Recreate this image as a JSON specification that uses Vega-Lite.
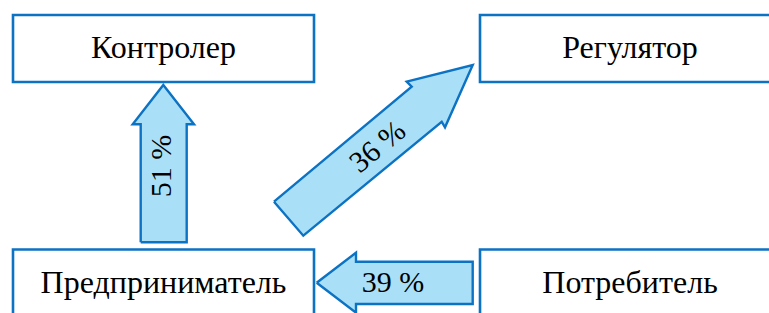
{
  "$schema": "https://vega.github.io/schema/vega-lite/v6.json",
  "width": 769,
  "height": 313,
  "autosize": {"type": "none"},
  "padding": 0,
  "background": "white",
  "config": {"view": {"stroke": null}},
  "datasets": {
    "boxes": [
      {"name": "Контролер", "x1": 13, "x2": 314, "y1": 15, "y2": 82},
      {"name": "Регулятор", "x1": 480, "x2": 790, "y1": 15, "y2": 82},
      {"name": "Предприниматель", "x1": 13, "x2": 314, "y1": 249.5, "y2": 330},
      {"name": "Потребитель", "x1": 480, "x2": 790, "y1": 249.5, "y2": 330}
    ],
    "arrows": [
      {"arrow": "A", "i": 0, "x": 140.7, "y": 242.3},
      {"arrow": "A", "i": 1, "x": 140.7, "y": 124.3},
      {"arrow": "A", "i": 2, "x": 132.7, "y": 124.3},
      {"arrow": "A", "i": 3, "x": 163.3, "y": 85},
      {"arrow": "A", "i": 4, "x": 194, "y": 124.3},
      {"arrow": "A", "i": 5, "x": 186.7, "y": 124.3},
      {"arrow": "A", "i": 6, "x": 186.7, "y": 242.3},
      {"arrow": "A", "i": 7, "x": 140.7, "y": 242.3},
      {"arrow": "B", "i": 0, "x": 274, "y": 201.7},
      {"arrow": "B", "i": 1, "x": 411.7, "y": 86.7},
      {"arrow": "B", "i": 2, "x": 406.7, "y": 81.7},
      {"arrow": "B", "i": 3, "x": 472.7, "y": 65},
      {"arrow": "B", "i": 4, "x": 445, "y": 127.3},
      {"arrow": "B", "i": 5, "x": 441.7, "y": 121.7},
      {"arrow": "B", "i": 6, "x": 303.3, "y": 235.7},
      {"arrow": "B", "i": 7, "x": 274, "y": 201.7},
      {"arrow": "C", "i": 0, "x": 316.7, "y": 282.7},
      {"arrow": "C", "i": 1, "x": 356, "y": 252.7},
      {"arrow": "C", "i": 2, "x": 356, "y": 261.7},
      {"arrow": "C", "i": 3, "x": 472.7, "y": 261.7},
      {"arrow": "C", "i": 4, "x": 472.7, "y": 304},
      {"arrow": "C", "i": 5, "x": 356, "y": 304},
      {"arrow": "C", "i": 6, "x": 356, "y": 312.7},
      {"arrow": "C", "i": 7, "x": 316.7, "y": 282.7}
    ],
    "labels": [
      {"text": "Контролер", "x": 163.5, "y": 48},
      {"text": "Регулятор", "x": 630, "y": 48},
      {"text": "Предприниматель", "x": 163.5, "y": 283},
      {"text": "Потребитель", "x": 630, "y": 283}
    ]
  },
  "encoding": {
    "x": {"type": "quantitative", "scale": {"domain": [0, 769], "nice": false, "zero": false}, "axis": null},
    "y": {"type": "quantitative", "scale": {"domain": [0, 313], "nice": false, "zero": false, "reverse": true}, "axis": null}
  },
  "layer": [
    {
      "data": {"name": "boxes"},
      "mark": {"type": "rect", "fill": "white", "stroke": "#0c72c3", "strokeWidth": 2.6, "clip": true},
      "encoding": {
        "x": {"field": "x1", "type": "quantitative"},
        "x2": {"field": "x2"},
        "y": {"field": "y1", "type": "quantitative"},
        "y2": {"field": "y2"}
      }
    },
    {
      "data": {"name": "arrows"},
      "mark": {"type": "line", "fill": "#a9e0f8", "stroke": "#0c72c3", "strokeWidth": 2.4, "strokeJoin": "miter", "clip": true},
      "encoding": {
        "x": {"field": "x", "type": "quantitative"},
        "y": {"field": "y", "type": "quantitative"},
        "detail": {"field": "arrow"},
        "order": {"field": "i", "type": "quantitative"}
      }
    },
    {
      "data": {"name": "labels"},
      "mark": {"type": "text", "font": "Liberation Serif", "fontSize": 32, "color": "black", "align": "center", "baseline": "middle"},
      "encoding": {
        "x": {"field": "x", "type": "quantitative"},
        "y": {"field": "y", "type": "quantitative"},
        "text": {"field": "text"}
      }
    },
    {
      "data": {"values": [{"text": "51 %", "x": 162, "y": 166}]},
      "mark": {"type": "text", "font": "Liberation Serif", "fontSize": 30, "color": "black", "align": "center", "baseline": "middle", "angle": 270},
      "encoding": {"x": {"field": "x", "type": "quantitative"}, "y": {"field": "y", "type": "quantitative"}, "text": {"field": "text"}}
    },
    {
      "data": {"values": [{"text": "36 %", "x": 378, "y": 147}]},
      "mark": {"type": "text", "font": "Liberation Serif", "fontSize": 30, "color": "black", "align": "center", "baseline": "middle", "angle": 320},
      "encoding": {"x": {"field": "x", "type": "quantitative"}, "y": {"field": "y", "type": "quantitative"}, "text": {"field": "text"}}
    },
    {
      "data": {"values": [{"text": "39 %", "x": 393, "y": 283}]},
      "mark": {"type": "text", "font": "Liberation Serif", "fontSize": 30, "color": "black", "align": "center", "baseline": "middle"},
      "encoding": {"x": {"field": "x", "type": "quantitative"}, "y": {"field": "y", "type": "quantitative"}, "text": {"field": "text"}}
    }
  ]
}
